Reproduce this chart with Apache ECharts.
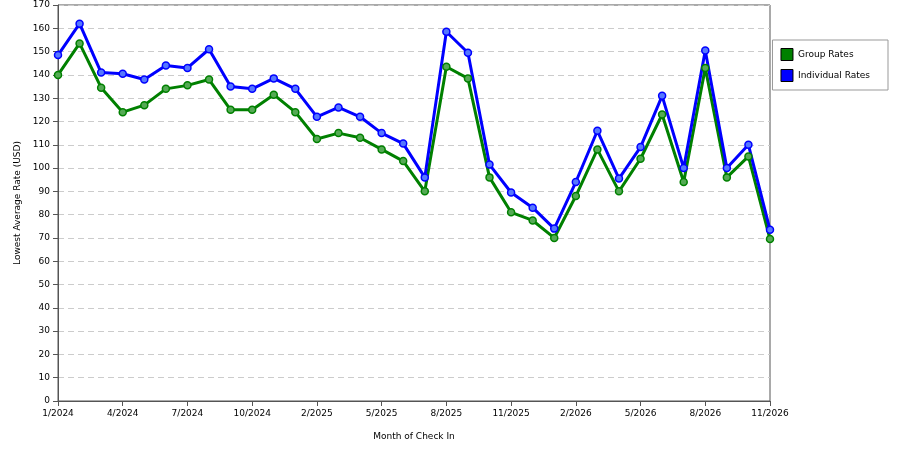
<!DOCTYPE html>
<html><head><meta charset="utf-8">
<script src="https://cdn.jsdelivr.net/npm/echarts@6/dist/echarts.min.js"></script>
<style>html,body{margin:0;padding:0;background:#fff}#c{width:900px;height:450px}</style>
</head><body><div id="c"></div>
<script>
const categories = ['1/2024','2/2024','3/2024','4/2024','5/2024','6/2024','7/2024','8/2024','9/2024','10/2024','12/2024','1/2025','2/2025','3/2025','4/2025','5/2025','6/2025','7/2025','8/2025','9/2025','10/2025','11/2025','12/2025','1/2026','2/2026','3/2026','4/2026','5/2026','6/2026','7/2026','8/2026','9/2026','10/2026','11/2026'];
const tickLabels = ['1/2024','4/2024','7/2024','10/2024','2/2025','5/2025','8/2025','11/2025','2/2026','5/2026','8/2026','11/2026'];
const groupRates = [140,153.5,134.5,124,127,134,135.5,138,125,125,131.5,124,112.5,115,113,108,103,90,143.5,138.5,96,81,77.5,70,88,108,90,104,123,94,143,96,105,69.5];
const individualRates = [148.5,162,141,140.5,138,144,143,151,135,134,138.5,134,122,126,122,115,110.5,96,158.5,149.5,101.5,89.5,83,74,94,116,95.5,109,131,100,150.5,100,110,73.5];

const chart = echarts.init(document.getElementById('c'));
const font = 'DejaVu Sans';
function ser(name, data, line, fill){
  return {name, type:'line', data, symbol:'circle', symbolSize:7,
    lineStyle:{width:3,color:line}, itemStyle:{color:fill,borderColor:line,borderWidth:1.5}};
}
chart.setOption({
  animation:false,
  textStyle:{fontFamily:font},
  grid:{left:58,right:130,top:5,bottom:49,show:true,borderColor:'#555',borderWidth:1},
  legend:{right:12,top:40,orient:'vertical',itemWidth:12,itemHeight:12,itemGap:8,
    padding:[8,18,8,8],borderColor:'#999',borderWidth:1,icon:'rect',
    textStyle:{fontSize:9,color:'#000'},
    data:[{name:'Group Rates',itemStyle:{color:'#008000',borderColor:'#000',borderWidth:1}},
          {name:'Individual Rates',itemStyle:{color:'#0000ff',borderColor:'#000',borderWidth:1}}]},
  xAxis:{type:'category',data:categories,boundaryGap:false,name:'Month of Check In',
    nameLocation:'middle',nameGap:31,nameTextStyle:{fontSize:9,color:'#000'},
    axisLine:{lineStyle:{color:'#555'}},
    axisTick:{interval:(i,v)=>tickLabels.includes(v),lineStyle:{color:'#555'}},
    axisLabel:{interval:(i,v)=>tickLabels.includes(v),fontSize:9,color:'#000'},
    splitLine:{show:false}},
  yAxis:{type:'value',min:0,max:170,interval:10,name:'Lowest Average Rate (USD)',
    nameLocation:'middle',nameGap:36,nameTextStyle:{fontSize:9,color:'#000'},
    axisLine:{show:true,lineStyle:{color:'#555'}},axisTick:{show:true,lineStyle:{color:'#555'}},
    axisLabel:{fontSize:9,color:'#000'},
    splitLine:{lineStyle:{type:[6,4],color:'#ccc'}}},
  series:[ser('Group Rates',groupRates,'#008000','#55aa55'),
          ser('Individual Rates',individualRates,'#0000ff','#5577ff')]
});
</script></body></html>
